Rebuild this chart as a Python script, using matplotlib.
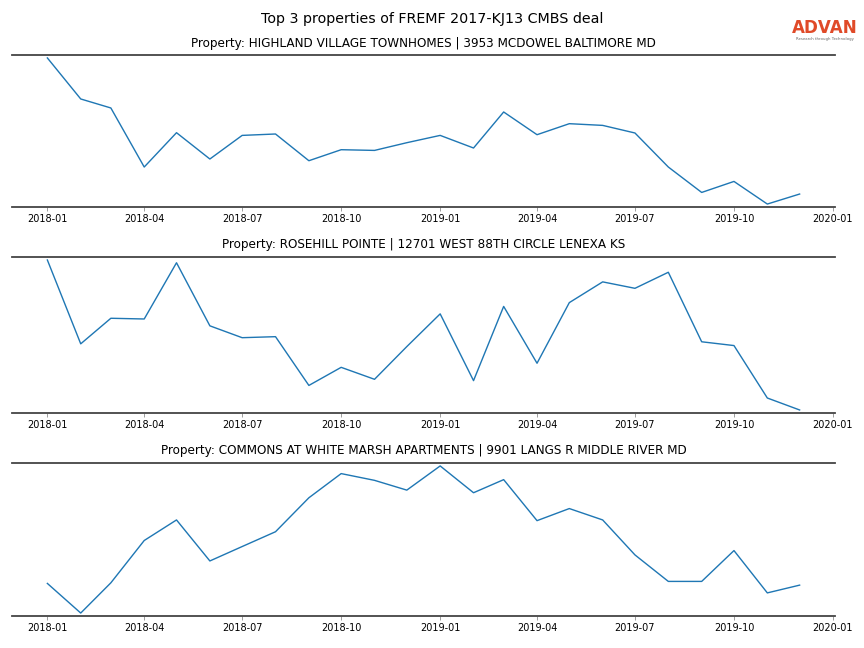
import numpy as np
import pandas as pd
import matplotlib
matplotlib.use("Agg")
import matplotlib.pyplot as plt

months = pd.date_range("2018-01-01", "2019-12-01", freq="MS")

titles = [
    "Property: HIGHLAND VILLAGE TOWNHOMES | 3953 MCDOWEL BALTIMORE MD",
    "Property: ROSEHILL POINTE | 12701 WEST 88TH CIRCLE LENEXA KS",
    "Property: COMMONS AT WHITE MARSH APARTMENTS | 9901 LANGS R MIDDLE RIVER MD",
]

highland = [148.7, 107.7, 98.7, 39.7, 74.0, 47.7, 71.3, 72.7, 46.0, 57.0, 56.3, 64.0,
            71.3, 58.7, 94.7, 72.0, 83.0, 81.3, 73.7, 39.7, 14.3, 25.3, 2.7, 12.7]
rosehill = [150.7, 68.7, 93.7, 93.0, 148.0, 86.3, 74.7, 75.7, 28.0, 45.7, 34.0, 66.0,
            98.0, 32.7, 105.3, 49.7, 109.0, 129.3, 123.0, 138.7, 70.7, 67.0, 15.7, 4.0]
commons = [32.7, 3.3, 33.3, 75.3, 95.7, 55.0, 69.3, 84.0, 117.7, 141.7, 135.0, 125.3,
           149.3, 122.7, 135.7, 95.0, 107.0, 95.7, 61.0, 34.7, 34.7, 65.3, 23.3, 31.0]

series = [highland, rosehill, commons]

tick_dates = pd.date_range("2018-01-01", "2020-01-01", freq="3MS")
tick_labels = [d.strftime("%Y-%m") for d in tick_dates]

fig = plt.figure(figsize=(12, 9), dpi=72)

# axes boxes [left, bottom, width, height] in figure fractions
boxes = [
    [0.0139, 0.6806, 0.9525, 0.2345],
    [0.0139, 0.3627, 0.9525, 0.2407],
    [0.0139, 0.0494, 0.9525, 0.2361],
]

for box, title, vals in zip(boxes, titles, series):
    ax = fig.add_axes(box)
    ax.plot(months, vals, color="#1f77b4", linewidth=1.4)
    ax.margins(x=0.047, y=0.02)
    ax.set_title(title, fontsize=12, pad=8.5)
    ax.spines["left"].set_visible(False)
    ax.spines["right"].set_visible(False)
    for s in ("top", "bottom"):
        ax.spines[s].set_linewidth(1.8)
        ax.spines[s].set_color("#444444")
    ax.set_yticks([])
    ax.set_xticks(tick_dates)
    ax.set_xticklabels(tick_labels)
    ax.tick_params(axis="x", labelsize=9.7, length=3.5, color="#888888", pad=4)

fig.suptitle("Top 3 properties of FREMF 2017-KJ13 CMBS deal", fontsize=14.2, y=0.981)

# logo
fig.text(0.9545, 0.957, "ADVAN", fontsize=16.8, fontweight="bold", color="#e04a28",
         ha="center", va="center")
fig.text(0.9545, 0.940, "Research through Technology", fontsize=3.9, color="#666666",
         ha="center", va="center")

fig.savefig("out.png", dpi=72)
